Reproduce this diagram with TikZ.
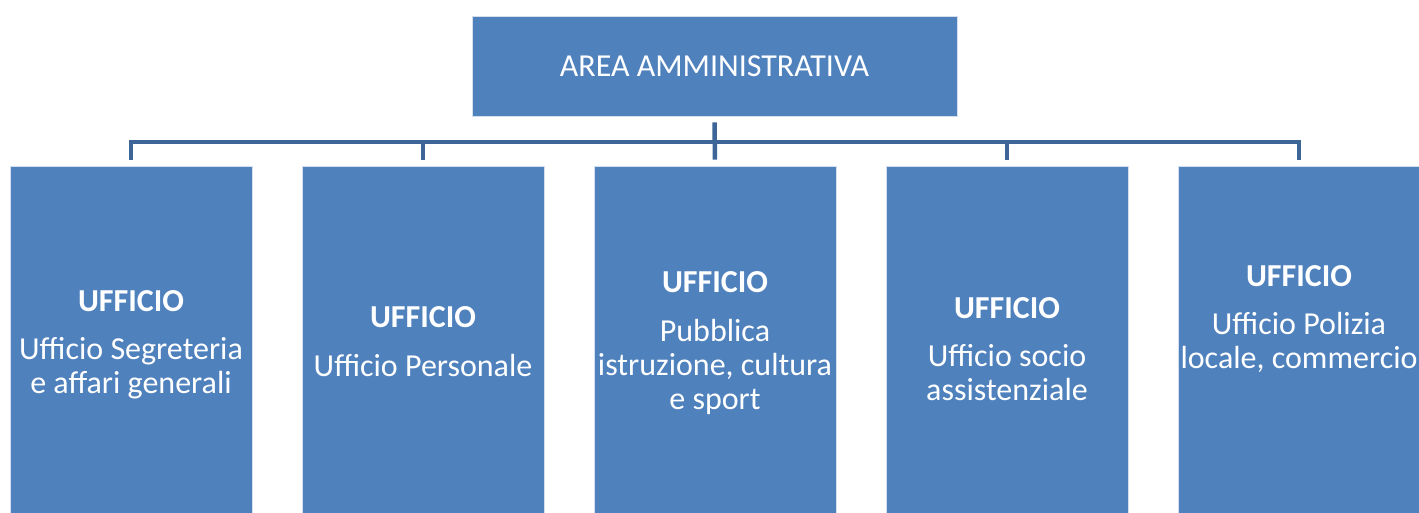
\documentclass[tikz,border=0pt]{standalone}
\usepackage{fontspec}
\setmainfont{Carlito}
\definecolor{boxblue}{HTML}{4F81BD}
\definecolor{lineblue}{HTML}{3D6597}
\begin{document}
\begin{tikzpicture}[
		x=0.5pt, y=-0.5pt,
		unitbox/.style={rectangle, fill=boxblue, draw=white!75!boxblue, line width=0.4pt, minimum width=121pt, minimum height=173.5pt, inner sep=0pt},
		unittext/.style={anchor=north, inner sep=0pt, text=white, align=center, font=\fontsize{16pt}{17pt}\selectfont},
		conn/.style={draw=lineblue, line width=2.25pt, shorten <=3pt, shorten >=3pt}
	]
	\useasboundingbox (0,0) rectangle (1419,513);

	\node[unitbox, minimum width=242.5pt, minimum height=50pt, font=\fontsize{16pt}{17pt}\selectfont, text=white] (area) at (714.5,66) {AREA AMMINISTRATIVA};

	\node[unitbox] (u1) at (131,339.5) {};
	\node[unitbox] (u2) at (423,339.5) {};
	\node[unitbox] (u3) at (715,339.5) {};
	\node[unitbox] (u4) at (1007,339.5) {};
	\node[unitbox] (u5) at (1299,339.5) {};

	\node[unittext] (t1) at (131,290) {\textbf{UFFICIO}\\[7.3pt]Ufficio Segreteria\\e affari generali};
	\node[unittext] (t2) at (423,306.5) {\textbf{UFFICIO}\\[7.3pt]Ufficio Personale};
	\node[unittext] (t3) at (715,271.5) {\textbf{UFFICIO}\\[7.3pt]Pubblica\\istruzione, cultura\\e sport};
	\node[unittext] (t4) at (1007,297) {\textbf{UFFICIO}\\[7.3pt]Ufficio socio\\assistenziale};
	\node[unittext] (t5) at (1299,265) {\textbf{UFFICIO}\\[7.3pt]Ufficio Polizia\\locale, commercio};

	% connectors from the area to each office
	\coordinate (hub) at (714.5,142);
	\draw[conn] (area.south) -- (u3.north);
	\draw[conn, shorten <=0pt] (hub) -| (u1.north);
	\draw[conn, shorten <=0pt] (hub) -| (u2.north);
	\draw[conn, shorten <=0pt] (hub) -| (u4.north);
	\draw[conn, shorten <=0pt] (hub) -| (u5.north);
\end{tikzpicture}
\end{document}
